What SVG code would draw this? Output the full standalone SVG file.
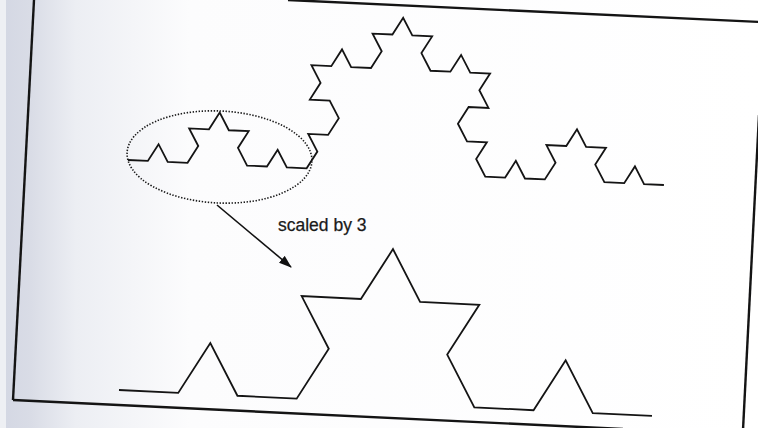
<svg xmlns="http://www.w3.org/2000/svg" width="758" height="428" viewBox="0 0 758 428">
  <defs>
    <linearGradient id="shade" x1="0" y1="0" x2="1" y2="0">
      <stop offset="0" stop-color="#d3d7e3"/>
      <stop offset="0.04" stop-color="#d9dce6"/>
      <stop offset="0.1" stop-color="#eceef3"/>
      <stop offset="0.25" stop-color="#fcfcfd"/>
      <stop offset="1" stop-color="#ffffff"/>
    </linearGradient>
    <marker id="arrow" markerWidth="13" markerHeight="10" refX="12" refY="5" orient="auto" markerUnits="userSpaceOnUse">
      <path d="M0,0.5 L13,5 L0,9.5 Z" fill="#111"/>
    </marker>
  </defs>
  <style>
    .curve { fill: none; stroke: #141414; stroke-width: 1.8; stroke-linejoin: miter; vector-effect: non-scaling-stroke; }
    .border { fill: none; stroke: #141414; stroke-width: 2.4; }
    .label { font-family: "Liberation Sans", Arial, sans-serif; font-size: 17.5px; fill: #1a1a1a; stroke: #1a1a1a; stroke-width: 0.25; }
  </style>
  <rect x="0" y="0" width="758" height="428" fill="url(#shade)"/>
  <rect x="0" y="0" width="6" height="428" fill="#eef0f4"/>
  <g id="page-frame">
    <line class="border" x1="34" y1="0" x2="13" y2="400"/>
    <line class="border" x1="13" y1="400" x2="623" y2="429"/>
    <line class="border" x1="288" y1="0" x2="760" y2="22"/>
    <line class="border" x1="759" y1="115" x2="743" y2="430"/>
  </g>
  <g id="koch-level3">
    <path class="curve" transform="translate(128,160) rotate(2.67) scale(19.87)" d="M0,0
      l1,0 l.5,-.866 l.5,.866 l1,0 l.5,-.866 l-.5,-.866 l1,0 l.5,-.866 l.5,.866 l1,0 l-.5,.866 l.5,.866 l1,0 l.5,-.866 l.5,.866 l1,0
      l.5,-.866 l-.5,-.866 l1,0 l.5,-.866 l-.5,-.866 l-1,0 l.5,-.866 l-.5,-.866 l1,0 l.5,-.866 l.5,.866 l1,0 l.5,-.866 l-.5,-.866 l1,0 l.5,-.866
      l.5,.866 l1,0 l-.5,.866 l.5,.866 l1,0 l.5,-.866 l.5,.866 l1,0 l-.5,.866 l.5,.866 l-1,0 l-.5,.866 l.5,.866 l1,0 l-.5,.866 l.5,.866
      l1,0 l.5,-.866 l.5,.866 l1,0 l.5,-.866 l-.5,-.866 l1,0 l.5,-.866 l.5,.866 l1,0 l-.5,.866 l.5,.866 l1,0 l.5,-.866 l.5,.866 l1,0"/>
  </g>
  <g id="selection-ellipse">
    <ellipse cx="219.5" cy="157" rx="92.5" ry="46" transform="rotate(2.7 219.5 157)" fill="none" stroke="#1a1a1a" stroke-width="1.6" stroke-dasharray="1.4 1.6"/>
  </g>
  <g id="koch-level2">
    <path class="curve" transform="translate(119,390) rotate(2.79) scale(59.29)" d="M0,0 l1,0 l.5,-.866 l.5,.866 l1,0 l.5,-.866 l-.5,-.866 l1,0 l.5,-.866 l.5,.866 l1,0 l-.5,.866 l.5,.866 l1,0 l.5,-.866 l.5,.866 l1,0"/>
  </g>
  <g id="connectors">
    <line x1="217" y1="205" x2="291" y2="267" stroke="#111" stroke-width="1.6" marker-end="url(#arrow)"/>
  </g>
  <g id="label-scaled">
    <text class="label" x="278" y="231">scaled by 3</text>
  </g>
</svg>
